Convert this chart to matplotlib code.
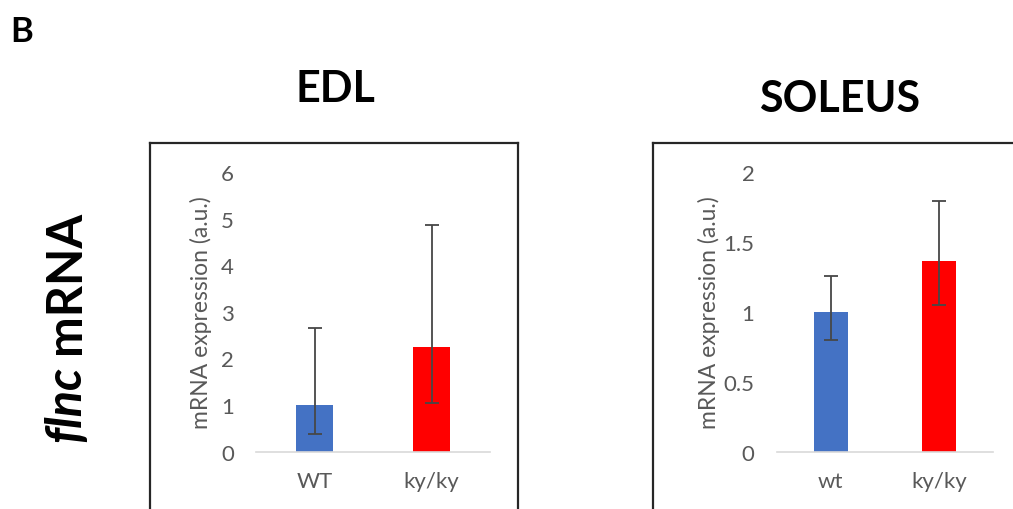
import numpy as np
import matplotlib
matplotlib.use('Agg')
import matplotlib.pyplot as plt
from matplotlib.lines import Line2D

# values
edl_groups = ['WT', 'ky/ky']
edl_mean = [1.0, 2.24]
edl_low = [0.38, 1.04]
edl_high = [2.66, 4.86]

sol_groups = ['wt', 'ky/ky']
sol_mean = [1.0, 1.364]
sol_low = [0.80, 1.048]
sol_high = [1.253, 1.793]

edl_ticks = [0, 1, 2, 3, 4, 5, 6]
sol_ticks = [0, 0.5, 1, 1.5, 2]
sol_ticklabels = ['0', '0.5', '1', '1.5', '2']

bar_colors = ['#4472C4', '#FF0000']

plt.rcParams['font.family'] = ['Lato', 'DejaVu Sans']

W, H = 1013, 510
fig = plt.figure(figsize=(W / 100, H / 100), dpi=100)


def px(x0, y0, x1, y1):
    # pixel box -> figure fraction [left, bottom, width, height]
    return [x0 / W, 1 - y1 / H, (x1 - x0) / W, (y1 - y0) / H]


def panel(rect, groups, mean, low, high, ticks, ticklabels, ymax):
    ax = fig.add_axes(rect)
    x = np.arange(len(groups))
    mean = np.array(mean)
    yerr = [mean - np.array(low), np.array(high) - mean]
    ax.bar(x, mean, width=0.31, color=bar_colors, zorder=2)
    ax.errorbar(x, mean, yerr=yerr, fmt='none', ecolor='#474747',
                elinewidth=1.3, capsize=4.7, capthick=1.3, zorder=3)
    ax.set_xlim(-0.5, len(groups) - 0.5)
    ax.set_ylim(0, ymax)
    ax.set_xticks(x)
    ax.set_xticklabels(groups)
    ax.set_yticks(ticks)
    ax.set_yticklabels(ticklabels)
    for s in ['top', 'right', 'left']:
        ax.spines[s].set_visible(False)
    ax.spines['bottom'].set_color('#D9D9D9')
    ax.spines['bottom'].set_linewidth(1.2)
    ax.tick_params(axis='both', length=0, labelsize=16, colors='#595959')
    ax.tick_params(axis='y', pad=16)
    ax.tick_params(axis='x', pad=14)
    ax.set_ylabel('mRNA expression (a.u.)', fontsize=16.5, color='#595959')
    ax.patch.set_alpha(0)
    return ax


ax1 = panel(px(256, 173, 490, 452.7), edl_groups, edl_mean, edl_low, edl_high,
            edl_ticks, [str(t) for t in edl_ticks], 6)
ax1.yaxis.set_label_coords(-0.188, 0.5)

ax2 = panel(px(776.7, 173, 993.3, 452.7), sol_groups, sol_mean, sol_low, sol_high,
            sol_ticks, sol_ticklabels, 2)
ax2.yaxis.set_label_coords(-0.262, 0.5)

# frames around the chart areas (cut off at the bottom / right)
box_kw = dict(color='#262626', linewidth=1.6, transform=fig.transFigure)
yt = 1 - 144 / H
for xs, ys in [([150 / W, 150 / W], [-0.05, yt]),
               ([150 / W, 518 / W], [yt, yt]),
               ([518 / W, 518 / W], [yt, -0.05]),
               ([653 / W, 653 / W], [-0.05, yt]),
               ([653 / W, 1.05], [yt, yt])]:
    fig.add_artist(Line2D(xs, ys, **box_kw))

# titles
fig.text(335 / W, 1 - 102 / H, 'EDL', ha='center', va='baseline',
         fontsize=31, fontweight='bold')
fig.text(839.6 / W, 1 - 112 / H, 'SOLEUS', ha='center', va='baseline',
         fontsize=31, fontweight='bold')
fig.text(10 / W, 1 - 42 / H, 'B', ha='left', va='baseline',
         fontsize=25, fontweight='bold')

# row label: italic gene name + bold "mRNA"
t1 = fig.text(80 / W, 1 - 442 / H, 'flnc', rotation=90, rotation_mode='anchor',
              ha='left', va='baseline', fontsize=35, fontweight='bold',
              fontstyle='italic')
fig.canvas.draw()
bb = t1.get_window_extent()
fig.text(80 / W, (bb.y1 + 12) / H, 'mRNA', rotation=90, rotation_mode='anchor',
         ha='left', va='baseline', fontsize=35, fontweight='bold')

fig.savefig('out.png', dpi=100)
